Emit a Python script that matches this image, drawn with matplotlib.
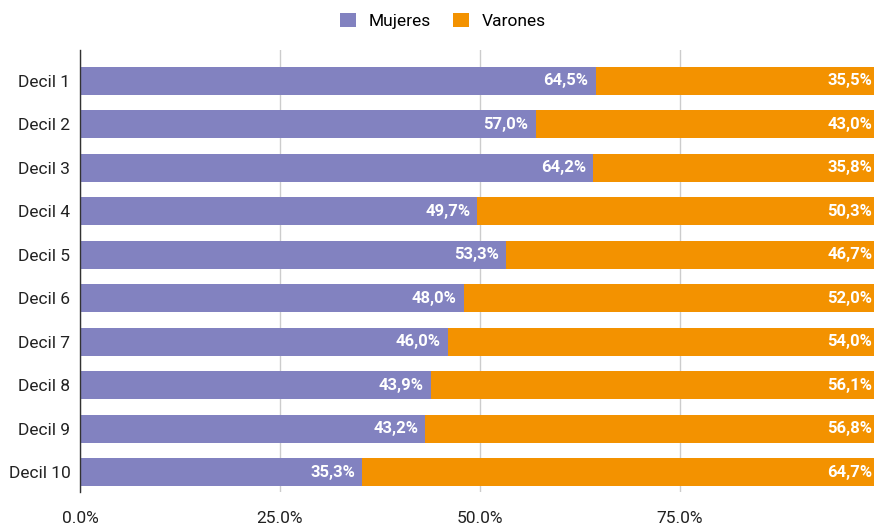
import matplotlib
matplotlib.use("Agg")
import matplotlib.pyplot as plt

categories = ["Decil 1", "Decil 2", "Decil 3", "Decil 4", "Decil 5",
              "Decil 6", "Decil 7", "Decil 8", "Decil 9", "Decil 10"]
mujeres = [64.5, 57.0, 64.2, 49.7, 53.3, 48.0, 46.0, 43.9, 43.2, 35.3]
varones = [35.5, 43.0, 35.8, 50.3, 46.7, 52.0, 54.0, 56.1, 56.8, 64.7]
xticks = [0, 25, 50, 75]
xtick_labels = ["0.0%", "25.0%", "50.0%", "75.0%"]

plt.rcParams['font.family'] = ['Roboto', 'DejaVu Sans']

C_M = "#8282C0"
C_V = "#F39200"

fig = plt.figure(figsize=(8.74, 5.26), dpi=100)
ax = fig.add_axes([80/874, 34/526, 794/874, 442/526])

y = list(range(len(categories)))
b1 = ax.barh(y, mujeres, height=0.645, color=C_M, label="Mujeres", zorder=2)
b2 = ax.barh(y, varones, left=mujeres, height=0.645, color=C_V, label="Varones", zorder=2)

def fmt(v):
    return f"{v:.1f}%".replace(".", ",")

for i in y:
    ax.text(mujeres[i] - 0.9, i, fmt(mujeres[i]), ha="right", va="center",
            color="white", fontsize=12, fontweight="bold", zorder=3)
    ax.text(mujeres[i] + varones[i] - 0.9, i, fmt(varones[i]), ha="right", va="center",
            color="white", fontsize=12, fontweight="bold", zorder=3)

ax.set_xlim(0, 99.3)
ax.set_ylim(9.46, -0.71)
ax.set_yticks(y)
ax.set_yticklabels(categories, fontsize=12.5, color="#222222")
ax.set_xticks(xticks)
ax.set_xticklabels(xtick_labels, fontsize=12.5, color="#222222")
ax.tick_params(axis="both", length=0)
ax.tick_params(axis="x", pad=14)
ax.tick_params(axis="y", pad=7)
ax.grid(axis="x", color="#cccccc", linewidth=1, zorder=0)
for s in ["top", "right", "bottom"]:
    ax.spines[s].set_visible(False)
ax.spines["left"].set_color("#333333")
ax.spines["left"].set_linewidth(1)
ax.spines["left"].set_zorder(4)

fig.legend(handles=[b1, b2], loc="center", bbox_to_anchor=(443/874, 1 - 21/526),
           ncol=2, frameon=False, fontsize=12.5, handlelength=0.9, handleheight=0.9,
           columnspacing=1.3, handletextpad=0.75)

fig.savefig("out.png", dpi=100)
